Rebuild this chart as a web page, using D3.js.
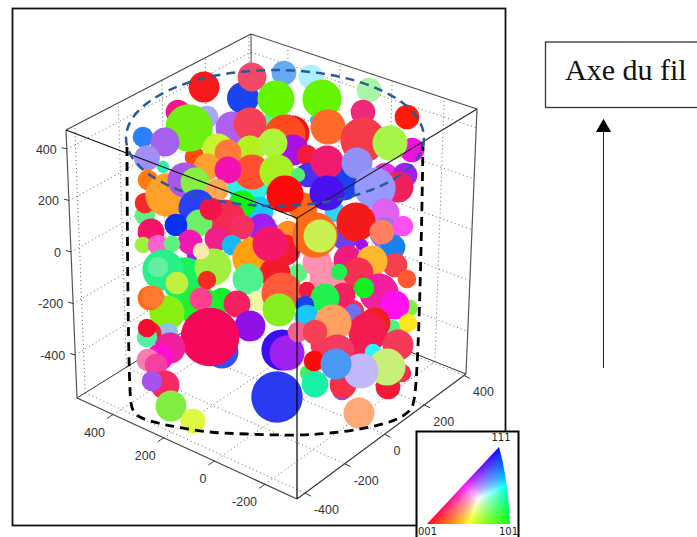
<!DOCTYPE html>
<html><head><meta charset="utf-8">
<script src="https://cdn.jsdelivr.net/npm/d3@7/dist/d3.min.js"></script>
<style>html,body{margin:0;padding:0;background:#fff;overflow:hidden}svg{display:block}</style>
</head><body><svg id="c" width="697" height="537"></svg>
<script>
// Axis ticks
const xTicks=[400,200,0,-200];
const yTicks=[-400,-200,0,200,400];
const zTicks=[400,200,0,-200,-400];
// Grain centres, radii and orientation colours (painter order, back to front)
const grainU=[-328,-508,-268,480,104,320,212,352,-200,180,
-116,-272,-80,48,156,0,176,16,200,388,364,540,-376,-260,-308,-332,-516,-428,-160,-88,
80,52,-88,84,4,140,224,364,560,472,-436,-500,-216,-176,-96,-260,-496,-508,-420,-348,
-308,-80,20,-176,-220,144,104,452,532,284,220,340,504,412,252,124,220,-52,-120,52,
-300,-188,-40,-292,-244,-484,-384,-120,-20,-516,-300,-328,-220,-160,-456,-400,64,-76,52,12,
-8,-348,-436,-456,-288,-236,-284,-380,-260,-96,-60,40,-420,-488,-476,-284,-140,28,-416,-88,
-200,-248,-488,-500,-500,-408,-448,-496,-464,-428,-480,-404,-316,40,60,20,292,172,192,224,
452,452,336,360,484,440,524,492,304,400,540,344,268,552,428,492,544,368,140,284,
212,132,324,412,384,140,244,104,172,260,504,404,280,284,520,464,460,356,144,172,
168,256,348];
const grainV=[116,156,-16,-304,-76,-232,-364,-364,-184,-32,
624,668,708,724,708,528,536,620,620,656,568,548,568,548,388,504,468,448,504,520,
484,476,416,416,444,396,508,456,416,444,348,384,420,404,276,348,296,204,236,296,
288,328,328,336,256,316,316,316,316,288,368,364,268,264,168,188,244,172,200,240,
184,136,104,124,180,88,116,108,68,36,-4,48,60,36,36,40,84,-16,16,-76,
40,-104,-64,-52,-212,-52,12,-116,-104,-100,-188,-156,-236,-176,-172,-180,-200,-224,-316,-288,
-392,-332,-316,-332,-296,-376,-412,-424,-444,-524,-508,-608,-668,-384,-396,-572,68,76,72,-104,
164,84,128,36,28,88,112,-44,-24,-28,-100,-76,-72,-216,-156,-204,-276,-136,-144,-164,
-176,-204,-232,-276,-312,-252,-276,-312,-312,-392,-364,-392,-544,-524,-476,-532,-452,-468,-476,-520,
-428,-440,-636];
const grainR=[56,40,40,40,36,48,56,48,48,56,
62,60,56,48,48,40,24,72,76,48,48,48,48,44,40,92,40,56,64,64,
68,80,56,60,56,40,68,88,48,68,24,50,60,52,80,52,40,40,84,68,
56,68,68,52,44,48,28,48,48,72,64,60,60,80,40,56,68,56,52,72,
72,80,56,52,44,52,44,48,60,32,40,48,48,40,40,32,48,80,60,60,
68,88,80,40,80,72,32,44,36,60,40,80,68,48,44,44,52,64,40,60,
64,114,44,40,36,60,52,44,44,56,40,60,48,80,68,100,52,88,64,72,
56,60,76,24,48,48,40,48,56,60,36,60,32,32,76,56,36,40,32,48,
56,36,32,60,76,48,72,40,48,68,60,32,40,52,36,48,72,68,32,52,
40,60,60];
const grainColor=["#f01ab0","#60f080","#a020f0","#50f080","#60f080","#f53050","#f53a60","#f02050","#10f030","#ff90b0",
"#1a44f0","#f8191c","#f04a68","#66aaf5","#aaf0ff","#60f0a0","#18c8f8","#66f500","#66f500","#a8f5a8","#f0287c","#ff1a0a","#f0188a","#a8a8f5","#ff4a10","#70f010","#2a80ff","#a860ee","#b060f0","#f54055",
"#e81818","#ff4a20","#b4f020","#aa10e8","#aaf53a","#f51a3a","#ff6a2a","#f53a48","#f010e0","#a8f54a","#30f0b0","#a090f5","#c8f530","#ff7a38","#30f0e0","#ffa030","#ff7a10","#f52a2a","#ffa028","#a858e8",
"#88ee44","#ff4f30","#a8f020","#f510b0","#ffa850","#4a30f0","#50f070","#e030e0","#a020f0","#1a40f0","#f01a70","#9090f5","#f0205a","#9898ff","#30d0f8","#ff6a10","#4a10f0","#18c8f8","#10f510","#ff0a0a",
"#2a40f5","#f52a50","#9a20f0","#70ee66","#f51448","#f5146a","#0a30f0","#f53060","#a020f0","#a0f040","#a020f0","#f01ab0","#f0208a","#18b8f8","#ff60d0","#60f080","#ff9020","#ffa010","#f51a30","#f51a2a",
"#f5186a","#18f060","#28f088","#60f0a0","#20f030","#a0f040","#ffe8b0","#c0f040","#f52a20","#50f090","#f0f8a0","#ff5a3a","#88f010","#ff6a10","#ff7a30","#ff4090","#f52060","#88ee20","#90c0f0","#9010e8",
"#3050f0","#f5085a","#f0203a","#50f0a0","#f50a30","#f020a0","#ff10d0","#f580b0","#f540a0","#f52a60","#a850f0","#80ee40","#e0f840","#3a10f0","#a020f0","#2a3af0","#6a40f0","#ff6a1a","#c8f050","#ff90b0",
"#e060f0","#a070f0","#f51a1a","#a010e8","#1a80f0","#ff8060","#ff50f0","#f54050","#f01a80","#ffb830","#ff5a30","#f53050","#20f050","#80f040","#f020a0","#ff10f0","#ffe81a","#10f020","#f01a40","#f52060",
"#20f050","#1a40f0","#7070f0","#f02020","#f51a50","#18c8f8","#ffa060","#f06090","#f54055","#f53a60","#f53a58","#30f0f8","#8850f0","#f53048","#f53050","#f01a38","#c8f078","#c0b8f8","#40f060","#18f0a8",
"#ff0a0a","#4a98f5","#ffa878"];
// Wire outline (lower wall and rim) in the same projected units
const wireU=[-580,-564,-556,-528,-456,-380,-248,-100,100,232,392,500,552,568,604];
const wireV=[428,-596,-624,-652,-676,-692,-712,-720,-724,-716,-692,-660,-624,-584,444];
const inverseLabels=["001","101","111"];
const noteLabel="Axe du fil";

const svg=d3.select("#c");
svg.append("rect").attr("width",697).attr("height",537).attr("fill","#fff");
// Outer frame
svg.append("rect").attr("x",12.5).attr("y",8.5).attr("width",493).attr("height",517).attr("fill","none").attr("stroke","#111").attr("stroke-width",1.8);

// 3D box projection
const xDom=[542,-326], yDom=[-440,410], zDom=[-567,474];
const tx=d3.scaleLinear().domain(xDom).range([0,1]);
const ty=d3.scaleLinear().domain(yDom).range([0,1]);
const tz=d3.scaleLinear().domain(zDom).range([0,1]);
const bE=[77,398],bF=[297,499],bG=[466,374],bH=[252,289];
const tA=[66,130],tD=[297,218],tC=[477,109],tB=[251,34];
const lerp=(a,b,t)=>[a[0]+(b[0]-a[0])*t,a[1]+(b[1]-a[1])*t];
function P(x,y,z){
  const a=tx(x),b=ty(y),c=tz(z);
  const bot=lerp(lerp(bE,bF,a),lerp(bH,bG,a),b);
  const top=lerp(lerp(tA,tD,a),lerp(tB,tC,a),b);
  return lerp(bot,top,c);
}
const xa=xDom[0],xb=xDom[1],ya=yDom[0],yb=yDom[1],za=zDom[0],zb=zDom[1];
const seg=(g,p,q,col,w,dash)=>g.append("line").attr("x1",p[0]).attr("y1",p[1]).attr("x2",q[0]).attr("y2",q[1])
  .attr("stroke",col).attr("stroke-width",w).attr("stroke-dasharray",dash||null);
const grid=svg.append("g");
const dot="1 3", gc="#666";
yTicks.forEach(y=>{
  seg(grid,P(xa,y,za),P(xa,y,zb),gc,1,dot);
  seg(grid,P(xa,y,za),P(xb,y,za),gc,1,dot);
});
xTicks.forEach(x=>{
  seg(grid,P(x,yb,za),P(x,yb,zb),gc,1,dot);
  seg(grid,P(x,ya,za),P(x,yb,za),gc,1,dot);
});
zTicks.forEach(z=>{
  seg(grid,P(xa,ya,z),P(xa,yb,z),gc,1,dot);
  seg(grid,P(xa,yb,z),P(xb,yb,z),gc,1,dot);
});
// Back edges and axis edges
const box=svg.append("g");
seg(box,tA,tB,"#444",1.1);seg(box,tB,tC,"#444",1.1);seg(box,tB,bH,"#444",1);
seg(box,bE,bH,"#333",1);seg(box,bH,bG,"#333",1);
seg(box,bE,bF,"#444",1.2);seg(box,bF,bG,"#333",1.1);
seg(box,tA,bE,"#555",1.2);seg(box,tC,bG,"#555",1.2);
// Ticks and labels
const ticks=svg.append("g");
const lab=(x,y,s,anchor)=>ticks.append("text").attr("x",x).attr("y",y).attr("text-anchor",anchor)
  .attr("font-family","'Liberation Sans',Arial,sans-serif").attr("font-size",12.5).attr("fill","#333").text(s);
zTicks.forEach(z=>{
  const p=P(xa,ya,z);
  seg(ticks,p,[p[0]-5,p[1]-1.5],"#333",1);
  lab(p[0]-10,p[1]+4.5,z,"end");
});
xTicks.forEach(x=>{
  const p=P(x,ya,za);
  seg(ticks,p,[p[0]-6,p[1]+4],"#444",1);
  lab(p[0]-8,p[1]+22,x,"end");
});
yTicks.forEach(y=>{
  const p=P(xb,y,za);
  seg(ticks,p,[p[0]+6,p[1]+3],"#333",1);
  lab(p[0]+9,p[1]+21,y,"start");
});

// Grains
const U=d3.scaleLinear().domain([-1000,1000]).range([22,522]);
const V=d3.scaleLinear().domain([-1000,1000]).range([504,4]);
const R=d3.scaleLinear().domain([0,100]).range([0,25]);
svg.append("g").selectAll("circle").data(d3.range(grainU.length)).join("circle")
  .attr("cx",i=>U(grainU[i])).attr("cy",i=>V(grainV[i])).attr("r",i=>R(grainR[i])*1.03).attr("fill",i=>grainColor[i]);

// Front edges over the grains
const front=svg.append("g");
seg(front,tA,tD,"#111",1.1);seg(front,tD,tC,"#222",1.1);seg(front,tD,bF,"#000",1.2);

// Wire outline
svg.append("path").attr("d",d3.line().x(i=>U(wireU[i])).y(i=>V(wireV[i])).curve(d3.curveCatmullRom.alpha(0.5))(d3.range(wireU.length)))
  .attr("fill","none").attr("stroke","#000").attr("stroke-width",2.8).attr("stroke-dasharray","9 6");
svg.append("ellipse").attr("cx",U(12)).attr("cy",V(464)).attr("rx",R(596)).attr("ry",R(272))
  .attr("fill","none").attr("stroke","#2a5a98").attr("stroke-width",2.5).attr("stroke-dasharray","9 6");

// Inverse pole figure key
const key=svg.append("g");
key.append("rect").attr("x",416.5).attr("y",431.5).attr("width",102).attr("height",110).attr("fill","#fff").attr("stroke","#000").attr("stroke-width",2);
const c0=[427,524],c1=[510,524],c2=[499,447];
const defs=svg.append("defs");
defs.append("clipPath").attr("id","ipf").append("path").attr("d",`M${c0}L${c2}Q508,478 ${c1}Z`);
const det=(c1[1]-c2[1])*(c0[0]-c2[0])+(c2[0]-c1[0])*(c0[1]-c2[1]);
const cells=[];
for(let y=445;y<525;y++)for(let x=425;x<512;x++){
  const px=x+.5,py=y+.5;
  let a=((c1[1]-c2[1])*(px-c2[0])+(c2[0]-c1[0])*(py-c2[1]))/det;
  let b=((c2[1]-c0[1])*(px-c2[0])+(c0[0]-c2[0])*(py-c2[1]))/det;
  let c=1-a-b;
  a=Math.max(a,0);b=Math.max(b,0);c=Math.max(c,0);
  const m=Math.max(a,b,c);
  const g=v=>255*Math.pow(v/m,0.7);
  cells.push({x,y,col:d3.rgb(g(a),g(b),g(c)).formatHex()});
}
key.append("g").attr("clip-path","url(#ipf)").selectAll("rect").data(cells).join("rect")
  .attr("x",d=>d.x).attr("y",d=>d.y).attr("width",1.05).attr("height",1.05).attr("fill",d=>d.col);
const kl=(x,y,s,a)=>key.append("text").attr("x",x).attr("y",y).attr("text-anchor",a).attr("font-family","'DejaVu Sans',sans-serif").attr("font-size",10).attr("fill","#222").text(s);
kl(418,535,inverseLabels[0],"start");kl(501,441,inverseLabels[2],"middle");kl(518,535,inverseLabels[1],"end");

// Note box and arrow
svg.append("rect").attr("x",545.5).attr("y",42).attr("width",160).attr("height",65.5).attr("fill","#fff").attr("stroke","#333").attr("stroke-width",1.3);
svg.append("text").attr("x",565).attr("y",80).attr("font-family","'Liberation Serif',serif").attr("font-size",30).attr("fill","#111").text(noteLabel);
svg.append("line").attr("x1",603.5).attr("y1",368).attr("x2",603.5).attr("y2",130).attr("stroke","#222").attr("stroke-width",1);
svg.append("path").attr("d",d3.symbol().type(d3.symbolTriangle).size(100)).attr("transform","translate(603.5,127.5)").attr("fill","#000");
</script></body></html>
